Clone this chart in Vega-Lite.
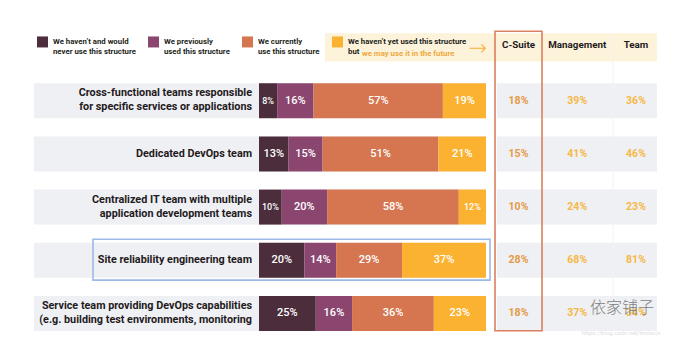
{
  "$schema": "https://vega.github.io/schema/vega-lite/v6.json",
  "width": 684,
  "height": 361,
  "autosize": {"type": "fit", "contains": "padding"},
  "padding": 0,
  "background": "white",
  "config": {"view": {"stroke": null}, "font": "Roboto"},
  "datasets": {
    "segments": [
      {"row": 1, "cat": "We haven’t and would|never use this structure", "k": 1, "v": 0.08},
      {"row": 1, "cat": "We previously|used this structure", "k": 2, "v": 0.16},
      {"row": 1, "cat": "We currently|use this structure", "k": 3, "v": 0.57},
      {"row": 1, "cat": "We haven’t yet used this structure|but", "k": 4, "v": 0.19},
      {"row": 2, "cat": "We haven’t and would|never use this structure", "k": 1, "v": 0.13},
      {"row": 2, "cat": "We previously|used this structure", "k": 2, "v": 0.15},
      {"row": 2, "cat": "We currently|use this structure", "k": 3, "v": 0.51},
      {"row": 2, "cat": "We haven’t yet used this structure|but", "k": 4, "v": 0.21},
      {"row": 3, "cat": "We haven’t and would|never use this structure", "k": 1, "v": 0.10},
      {"row": 3, "cat": "We previously|used this structure", "k": 2, "v": 0.20},
      {"row": 3, "cat": "We currently|use this structure", "k": 3, "v": 0.58},
      {"row": 3, "cat": "We haven’t yet used this structure|but", "k": 4, "v": 0.12},
      {"row": 4, "cat": "We haven’t and would|never use this structure", "k": 1, "v": 0.20},
      {"row": 4, "cat": "We previously|used this structure", "k": 2, "v": 0.14},
      {"row": 4, "cat": "We currently|use this structure", "k": 3, "v": 0.29},
      {"row": 4, "cat": "We haven’t yet used this structure|but", "k": 4, "v": 0.37},
      {"row": 5, "cat": "We haven’t and would|never use this structure", "k": 1, "v": 0.25},
      {"row": 5, "cat": "We previously|used this structure", "k": 2, "v": 0.16},
      {"row": 5, "cat": "We currently|use this structure", "k": 3, "v": 0.36},
      {"row": 5, "cat": "We haven’t yet used this structure|but", "k": 4, "v": 0.23}
    ],
    "rows": [
      {"row": 1, "label": "Cross-functional teams responsible|for specific services or applications", "C-Suite": 0.18, "Management": 0.39, "Team": 0.36},
      {"row": 2, "label": "Dedicated DevOps team", "C-Suite": 0.15, "Management": 0.41, "Team": 0.46},
      {"row": 3, "label": "Centralized IT team with multiple|application development teams", "C-Suite": 0.10, "Management": 0.24, "Team": 0.23},
      {"row": 4, "label": "Site reliability engineering team", "C-Suite": 0.28, "Management": 0.68, "Team": 0.81},
      {"row": 5, "label": "Service team providing DevOps capabilities|(e.g. building test environments, monitoring", "C-Suite": 0.18, "Management": 0.37, "Team": 0.34}
    ]
  },
  "resolve": {"scale": {"x": "independent"}},
  "layer": [
    {
      "data": {"values": [{}]},
      "mark": {"type": "rect", "color": "#fdf3da"},
      "encoding": {
        "x": {"datum": 0.2907, "type": "quantitative", "scale": {"domain": [-1.141, 1.8722], "nice": false, "zero": false}, "axis": null},
        "x2": {"datum": 1.7533},
        "y": {"datum": -0.2698, "type": "quantitative", "scale": {"domain": [-0.8, 5.8], "reverse": true, "nice": false, "zero": false}, "axis": null},
        "y2": {"datum": 0.2603}
      }
    },
    {
      "data": {"name": "rows"},
      "mark": {"type": "bar", "orient": "horizontal", "size": 35, "color": "#eff0f4"},
      "encoding": {
        "x": {"datum": -0.9912, "type": "quantitative", "scale": {"domain": [-1.141, 1.8722], "nice": false, "zero": false}, "axis": null},
        "x2": {"datum": 1},
        "y": {"field": "row", "type": "quantitative", "scale": {"domain": [-0.8, 5.8], "reverse": true, "nice": false, "zero": false}, "axis": null}
      }
    },
    {
      "data": {"name": "rows"},
      "mark": {"type": "bar", "orient": "horizontal", "size": 35, "color": "#eff0f4"},
      "encoding": {
        "x": {"datum": 1.0485, "type": "quantitative", "scale": {"domain": [-1.141, 1.8722], "nice": false, "zero": false}, "axis": null},
        "x2": {"datum": 1.7533},
        "y": {"field": "row", "type": "quantitative", "scale": {"domain": [-0.8, 5.8], "reverse": true, "nice": false, "zero": false}, "axis": null}
      }
    },
    {
      "data": {"values": [{}]},
      "mark": {"type": "rule", "color": "#f2f2f4", "strokeWidth": 1},
      "encoding": {
        "x": {"datum": 1.5595, "type": "quantitative", "scale": {"domain": [-1.141, 1.8722], "nice": false, "zero": false}, "axis": null},
        "y": {"datum": -0.2698, "type": "quantitative", "axis": null},
        "y2": {"datum": 5.3247}
      }
    },
    {
      "data": {"name": "segments"},
      "mark": {"type": "bar", "orient": "horizontal", "size": 35},
      "encoding": {
        "x": {"field": "v", "type": "quantitative", "stack": "zero", "scale": {"domain": [-1.141, 1.8722], "nice": false, "zero": false}, "axis": null},
        "y": {"field": "row", "type": "quantitative", "axis": null},
        "color": {
          "field": "cat",
          "type": "nominal",
          "scale": {
            "domain": ["We haven’t and would|never use this structure", "We previously|used this structure", "We currently|use this structure", "We haven’t yet used this structure|but"],
            "range": ["#4b2d3c", "#8b4670", "#d57650", "#fbb231"]
          },
          "legend": {
            "orient": "none",
            "legendX": 37,
            "legendY": 36,
            "direction": "horizontal",
            "title": null,
            "symbolType": "square",
            "symbolSize": 121,
            "symbolStrokeWidth": 0,
            "symbolOpacity": 1,
            "labelFont": "Roboto",
            "labelFontSize": 7.8,
            "labelFontWeight": "bold",
            "labelColor": "#231f20",
            "labelOffset": 5,
            "labelLimit": 300,
            "columnPadding": 12,
            "padding": 0,
            "labelExpr": "split(datum.label, '|')"
          }
        },
        "order": {"field": "k", "type": "quantitative"}
      }
    },
    {
      "data": {"name": "segments"},
      "transform": [
        {"stack": "v", "groupby": ["row"], "sort": [{"field": "k"}], "as": ["x0", "x1"]},
        {"fold": ["x0", "x1"], "as": ["edge", "pos"]},
        {"aggregate": [{"op": "mean", "field": "pos", "as": "mid"}], "groupby": ["row", "k", "v"]}
      ],
      "mark": {"type": "text", "color": "white", "fontWeight": 500, "baseline": "middle", "align": "center"},
      "encoding": {
        "x": {"field": "mid", "type": "quantitative", "scale": {"domain": [-1.141, 1.8722], "nice": false, "zero": false}, "axis": null},
        "y": {"field": "row", "type": "quantitative", "axis": null},
        "text": {"field": "v", "type": "quantitative", "format": ".0%"},
        "size": {"condition": {"test": "datum.v <= 0.12", "value": 9}, "value": 11}
      }
    },
    {
      "data": {"name": "rows"},
      "transform": [{"filter": "indexof(datum.label, '|') >= 0"}],
      "mark": {"type": "text", "align": "right", "baseline": "middle", "dy": -7.5, "lineBreak": "|", "lineHeight": 14, "fontSize": 10.8, "fontWeight": "bold", "color": "#1f1a1c"},
      "encoding": {
        "x": {"datum": -0.0308, "type": "quantitative", "scale": {"domain": [-1.141, 1.8722], "nice": false, "zero": false}, "axis": null},
        "y": {"field": "row", "type": "quantitative", "axis": null},
        "text": {"field": "label", "type": "nominal"}
      }
    },
    {
      "data": {"name": "rows"},
      "transform": [{"filter": "indexof(datum.label, '|') < 0"}],
      "mark": {"type": "text", "align": "right", "baseline": "middle", "fontSize": 10.8, "fontWeight": "bold", "color": "#1f1a1c"},
      "encoding": {
        "x": {"datum": -0.0308, "type": "quantitative", "scale": {"domain": [-1.141, 1.8722], "nice": false, "zero": false}, "axis": null},
        "y": {"field": "row", "type": "quantitative", "axis": null},
        "text": {"field": "label", "type": "nominal"}
      }
    },
    {
      "data": {"name": "rows"},
      "transform": [{"fold": ["C-Suite", "Management", "Team"]}],
      "mark": {"type": "text", "fontSize": 10.5, "fontWeight": "bold"},
      "encoding": {
        "x": {"field": "key", "type": "nominal", "scale": {"type": "point", "domain": ["C-Suite", "Management", "Team"], "range": [518.5, 636], "padding": 0}, "axis": null},
        "y": {"field": "row", "type": "quantitative", "axis": null},
        "text": {"field": "value", "type": "quantitative", "format": ".0%"},
        "color": {"condition": {"test": "datum.key === 'C-Suite'", "value": "#e39a46"}, "value": "#f6b846"}
      }
    },
    {
      "data": {"values": [{"key": "C-Suite"}, {"key": "Management"}, {"key": "Team"}]},
      "mark": {"type": "text", "fontSize": 9.8, "fontWeight": "bold", "color": "#1f1a1c"},
      "encoding": {
        "x": {"field": "key", "type": "nominal", "scale": {"type": "point", "domain": ["C-Suite", "Management", "Team"], "range": [518.5, 636], "padding": 0}, "axis": null},
        "y": {"datum": -0.05, "type": "quantitative", "axis": null},
        "text": {"field": "key", "type": "nominal"}
      }
    },
    {
      "data": {"values": [{}]},
      "mark": {"type": "rect", "filled": false, "stroke": "#d9805e", "strokeWidth": 1.6},
      "encoding": {
        "x": {"datum": 1.0396, "type": "quantitative", "scale": {"domain": [-1.141, 1.8722], "nice": false, "zero": false}, "axis": null},
        "x2": {"datum": 1.2467},
        "y": {"datum": -0.3064, "type": "quantitative", "axis": null},
        "y2": {"datum": 5.3247}
      }
    },
    {
      "data": {"values": [{}]},
      "mark": {"type": "rect", "filled": false, "stroke": "#9db9e8", "strokeWidth": 1.6},
      "encoding": {
        "x": {"datum": -0.7313, "type": "quantitative", "scale": {"domain": [-1.141, 1.8722], "nice": false, "zero": false}, "axis": null},
        "x2": {"datum": 1.0176},
        "y": {"datum": 3.606, "type": "quantitative", "axis": null},
        "y2": {"datum": 4.374}
      }
    },
    {
      "data": {"values": [{"t": "we may use it in the future"}]},
      "mark": {"type": "text", "align": "left", "baseline": "middle", "fontSize": 7.8, "fontWeight": "bold", "color": "#f0a83c"},
      "encoding": {
        "x": {"datum": 0.4537, "type": "quantitative", "scale": {"domain": [-1.141, 1.8722], "nice": false, "zero": false}, "axis": null},
        "y": {"datum": 0.1141, "type": "quantitative", "axis": null},
        "text": {"field": "t", "type": "nominal"}
      }
    },
    {
      "data": {"values": [{"t": "→"}]},
      "mark": {"type": "text", "align": "center", "baseline": "middle", "font": "DejaVu Sans", "fontSize": 22, "fontWeight": 200, "color": "#f5b23e"},
      "encoding": {
        "x": {"datum": 0.9648, "type": "quantitative", "scale": {"domain": [-1.141, 1.8722], "nice": false, "zero": false}, "axis": null},
        "y": {"datum": 0.0044, "type": "quantitative", "axis": null},
        "text": {"field": "t", "type": "nominal"}
      }
    },
    {
      "data": {"values": [{"t": "依家铺子"}]},
      "mark": {"type": "text", "align": "center", "baseline": "middle", "font": "Noto Sans CJK SC", "fontSize": 16, "fontWeight": 300, "color": "#7f7f7f"},
      "encoding": {
        "x": {"datum": 1.599, "type": "quantitative", "scale": {"domain": [-1.141, 1.8722], "nice": false, "zero": false}, "axis": null},
        "y": {"datum": 4.904, "type": "quantitative", "axis": null},
        "text": {"field": "t", "type": "nominal"}
      }
    },
    {
      "data": {"values": [{"t": "https://blog.csdn.net/limlwcn"}]},
      "mark": {"type": "text", "align": "center", "baseline": "middle", "fontSize": 6, "color": "#dedede"},
      "encoding": {
        "x": {"datum": 1.5947, "type": "quantitative", "scale": {"domain": [-1.141, 1.8722], "nice": false, "zero": false}, "axis": null},
        "y": {"datum": 5.361, "type": "quantitative", "axis": null},
        "text": {"field": "t", "type": "nominal"}
      }
    }
  ]
}
